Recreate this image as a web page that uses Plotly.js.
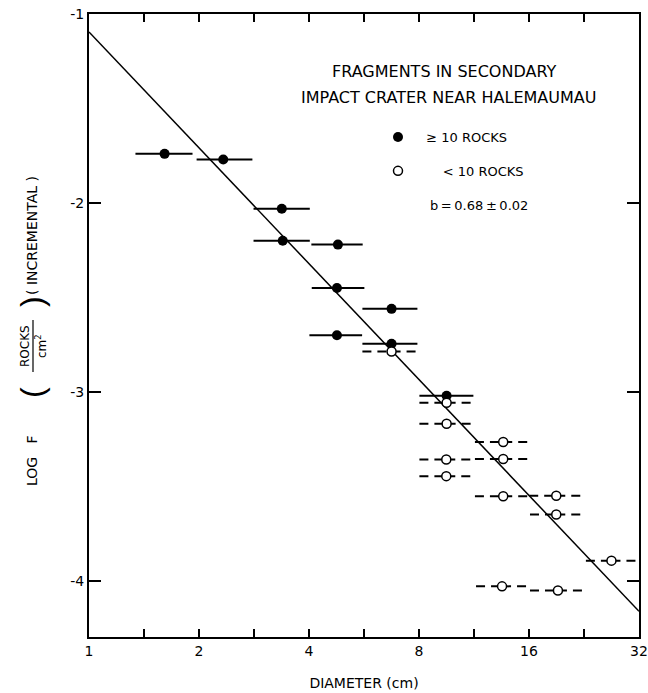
<!DOCTYPE html>
<html>
<head>
<meta charset="utf-8">
<script src="https://cdn.plot.ly/plotly-3.0.1.min.js"></script>
<style>html,body{margin:0;padding:0;background:#fff;}#chart{width:648px;height:693px;}</style>
</head>
<body>
<div id="chart"></div>
<script>
// ---- data ----
const filledX  = [1.61, 2.33, 3.37, 3.39, 4.80, 4.77, 4.77, 6.73, 6.73, 9.52];
const filledY  = [-1.74, -1.77, -2.03, -2.20, -2.22, -2.45, -2.70, -2.56, -2.745, -3.02];
const filledLo = [1.34, 1.97, 2.82, 2.82, 4.06, 4.07, 4.01, 5.60, 5.60, 8.02];
const filledHi = [1.92, 2.80, 4.02, 4.02, 5.61, 5.67, 5.59, 7.92, 7.92, 11.27];

const openX  = [6.73, 9.52, 9.52, 13.6, 9.50, 13.6, 9.50, 13.6, 19.0, 19.0, 26.9, 13.5, 19.2];
const openY  = [-2.786, -3.057, -3.168, -3.264, -3.357, -3.354, -3.445, -3.551, -3.549, -3.648, -3.892, -4.028, -4.050];
const openLo = [5.60, 8.02, 8.02, 11.38, 8.02, 11.38, 8.02, 11.38, 16.02, 16.1, 22.9, 11.46, 16.1];
const openHi = [7.92, 11.27, 11.27, 15.95, 11.27, 15.95, 11.3, 15.95, 22.4, 22.5, 31.8, 15.95, 22.5];

const fitX = [1, 32];
const fitY = [-1.095, -4.16];

const xTickVals = [1, 2, 4, 8, 16, 32];
const xTickText = ["1", "2", "4", "8", "16", "32"];
const xMinorVals = [1.414, 2.828, 5.657, 11.31, 22.63];
const yTickVals = [-1, -2, -3, -4];
const yTickText = ["-1", "-2", "-3", "-4"];

// ---- build segment traces ----
function segs(lo, hi, yv) {
  const xs = [], ys = [];
  for (let i = 0; i < lo.length; i++) { xs.push(lo[i], hi[i], null); ys.push(yv[i], yv[i], null); }
  return {xs, ys};
}
function halfSegs(lo, mid, hi, yv) {
  const xs = [], ys = [];
  for (let i = 0; i < lo.length; i++) {
    xs.push(lo[i], mid[i], null, mid[i], hi[i], null);
    ys.push(yv[i], yv[i], null, yv[i], yv[i], null);
  }
  return {xs, ys};
}
const fs = segs(filledLo, filledHi, filledY);
const os = halfSegs(openLo, openX, openHi, openY);

const FONT = "DejaVu Sans, Liberation Sans, sans-serif";
const NB = '\u00a0';

const traces = [
  {x: fitX, y: fitY, mode: 'lines', line: {color: '#000', width: 1.5}, showlegend: false, hoverinfo: 'skip'},
  {x: fs.xs, y: fs.ys, mode: 'lines', line: {color: '#000', width: 2}, showlegend: false, connectgaps: false},
  {x: os.xs, y: os.ys, mode: 'lines', line: {color: '#000', width: 2, dash: '9px,6px'}, showlegend: false, connectgaps: false},
  {x: filledX, y: filledY, mode: 'markers', name: NB + NB + '\u2265 10 ROCKS', legendgroup: 'a',
   marker: {symbol: 'circle', size: 10, color: '#000', line: {width: 0}}},
  {x: openX, y: openY, mode: 'markers', name: NB.repeat(6) + '< 10 ROCKS', legendgroup: 'b',
   marker: {symbol: 'circle', size: 9, color: '#fff', line: {color: '#000', width: 1.5}}}
];

const px2x = p => (p - 89) / 550;
const px2y = p => (637 - p) / 623;

const layout = {
  width: 648, height: 693,
  margin: {l: 89, r: 9, t: 14, b: 56},
  paper_bgcolor: '#fff', plot_bgcolor: '#fff',
  font: {family: FONT, color: '#000', size: 13},
  showlegend: true,
  legend: {x: px2x(378), y: px2y(122), xanchor: 'left', yanchor: 'top',
           bgcolor: 'rgba(0,0,0,0)', font: {size: 13, family: FONT},
           traceorder: 'grouped', tracegroupgap: 14, itemclick: false},
  xaxis: {
    type: 'log', range: [0, Math.log10(32)],
    tickmode: 'array', tickvals: xTickVals, ticktext: xTickText,
    ticks: 'inside', ticklen: 8, tickwidth: 1.5, tickcolor: '#000',
    minor: {tickmode: 'array', tickvals: xMinorVals, ticks: 'inside', ticklen: 8, tickwidth: 1.5, tickcolor: '#000', showgrid: false},
    showline: true, linecolor: '#000', linewidth: 2, mirror: 'ticks',
    showgrid: false, zeroline: false,
    tickfont: {size: 14, family: FONT},
    title: {text: 'DIAMETER (cm)', font: {size: 14, family: FONT}, standoff: 20}
  },
  yaxis: {
    range: [-4.296, -1],
    tickmode: 'array', tickvals: yTickVals, ticktext: yTickText,
    ticks: 'inside', ticklen: 12, tickwidth: 1.5, tickcolor: '#000',
    showline: true, linecolor: '#000', linewidth: 2, mirror: 'ticks',
    showgrid: false, zeroline: false,
    tickfont: {size: 14, family: FONT}
  },
  annotations: [
    {xref: 'paper', yref: 'paper', x: px2x(444), y: px2y(72), text: 'FRAGMENTS IN SECONDARY', showarrow: false,
     font: {size: 16}, xanchor: 'center', yanchor: 'middle'},
    {xref: 'paper', yref: 'paper', x: px2x(448), y: px2y(97), text: 'IMPACT CRATER NEAR HALEMAUMAU', showarrow: false,
     font: {size: 16}, xanchor: 'center', yanchor: 'middle'},
    {xref: 'paper', yref: 'paper', x: px2x(428), y: px2y(205), text: 'b\u2009=\u20090.68\u2009\u00b1\u20090.02', showarrow: false,
     font: {size: 13}, xanchor: 'left', yanchor: 'middle'},
    // y-axis title pieces
    {xref: 'paper', yref: 'paper', x: px2x(32), y: px2y(461), text: 'LOG' + NB + NB + NB + 'F', showarrow: false,
     textangle: -90, font: {size: 14}, xanchor: 'center', yanchor: 'middle'},
    {xref: 'paper', yref: 'paper', x: px2x(32), y: px2y(393), text: '(', showarrow: false,
     textangle: -90, font: {size: 32, family: 'Liberation Sans'}, xanchor: 'center', yanchor: 'middle'},
    {xref: 'paper', yref: 'paper', x: px2x(25), y: px2y(346), text: 'ROCKS', showarrow: false,
     textangle: -90, font: {size: 12}, xanchor: 'center', yanchor: 'middle'},
    {xref: 'paper', yref: 'paper', x: px2x(41), y: px2y(346), text: 'cm<sup>2</sup>', showarrow: false,
     textangle: -90, font: {size: 12}, xanchor: 'center', yanchor: 'middle'},
    {xref: 'paper', yref: 'paper', x: px2x(32), y: px2y(302), text: ')', showarrow: false,
     textangle: -90, font: {size: 32, family: 'Liberation Sans'}, xanchor: 'center', yanchor: 'middle'},
    {xref: 'paper', yref: 'paper', x: px2x(32), y: px2y(236), text: '( INCREMENTAL )', showarrow: false,
     textangle: -90, font: {size: 14}, xanchor: 'center', yanchor: 'middle'}
  ],
  shapes: [
    {type: 'line', xref: 'paper', yref: 'paper', x0: px2x(33), x1: px2x(33), y0: px2y(320), y1: px2y(372),
     line: {color: '#000', width: 1.2}}
  ]
};

Plotly.newPlot('chart', traces, layout, {staticPlot: true, displayModeBar: false});
</script>
</body>
</html>
